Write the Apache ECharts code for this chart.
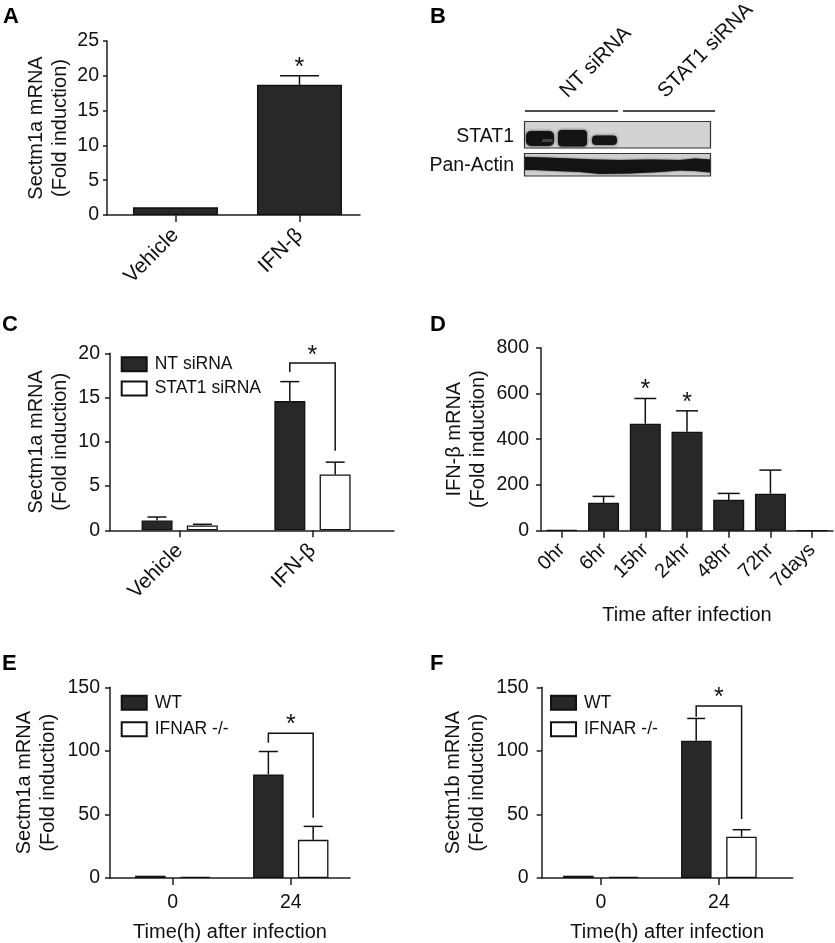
<!DOCTYPE html>
<html><head><meta charset="utf-8">
<script src="https://cdn.jsdelivr.net/npm/echarts@6/dist/echarts.min.js"></script>
<style>html,body{margin:0;padding:0;background:#fff}#c{width:835px;height:943px}</style>
</head><body><div id="c"></div>
<script>
// ---------------- data ----------------
const aCategories = ['Vehicle', 'IFN-β'];
const aMeans = [1.1, 18.7];
const aErrTops = [1.1, 20.0];
const aStars = [null, 22.0];

const cCategories = ['Vehicle', 'IFN-β'];
const cNTMeans = [1.1, 14.6];
const cNTErrTops = [1.5, 16.8];
const cSTAT1Means = [0.55, 6.3];
const cSTAT1ErrTops = [0.68, 7.7];
const cBracket = [1, 17.9, 18.9, 9.0, 20.4]; // group, left leg bottom, bar, right leg bottom, star

const dCategories = ['0hr', '6hr', '15hr', '24hr', '48hr', '72hr', '7days'];
const dMeans = [3, 122, 468, 433, 135, 162, 0];
const dErrTops = [3, 150, 578, 524, 163, 265, 0];
const dStars = [null, null, 641, 585, null, null, null];

const eCategories = ['0', '24'];
const eWTMeans = [1.8, 81.5];
const eWTErrTops = [1.8, 99.5];
const eKOMeans = [1.0, 30.0];
const eKOErrTops = [1.0, 40.6];
const eBracket = [1, 106.4, 113.8, 47.4, 124.8];

const fCategories = ['0', '24'];
const fWTMeans = [1.8, 108.0];
const fWTErrTops = [1.8, 125.5];
const fKOMeans = [1.0, 32.5];
const fKOErrTops = [1.0, 38.0];
const fBracket = [1, 126.9, 135.3, 46.4, 146.5];

// ---------------- style ----------------
const FONT = '"Liberation Sans", Arial, Helvetica, sans-serif';
const INK = '#111';
const AXIS = '#1e1e1e';
const DARK = '#282828';
const STAR_SIZE = 25;

function yAx(gi, max, interval, name, nameGap, margin, tickLen) {
  return {
    type: 'value', gridIndex: gi, min: 0, max: max, interval: interval,
    name: name, nameLocation: 'middle', nameGap: nameGap, nameRotate: 90,
    nameTextStyle: { fontSize: 20, lineHeight: 24, color: INK, fontFamily: FONT },
    axisLine: { show: true, onZero: false, lineStyle: { color: AXIS, width: 1.5 } },
    axisTick: { show: true, length: tickLen, lineStyle: { color: AXIS, width: 1.5 } },
    axisLabel: { fontSize: 19.5, color: INK, fontFamily: FONT, margin: margin },
    splitLine: { show: false }
  };
}
function xVal(gi, min, max, cats, opts) {
  const idx = cats.map((c, i) => i);
  return Object.assign({
    type: 'value', gridIndex: gi, min: min, max: max,
    axisLine: { show: true, onZero: false, lineStyle: { color: AXIS, width: 1.5 } },
    axisTick: { show: true, customValues: idx, length: 7, lineStyle: { color: AXIS, width: 1.5 } },
    axisLabel: { customValues: idx, formatter: v => cats[Math.round(v)] || '', fontSize: opts.fontSize || 19.5,
      color: INK, fontFamily: FONT, margin: opts.margin, rotate: opts.rotate || 0 },
    splitLine: { show: false }
  }, opts.extra || {});
}
function pairs(arr) { return arr.map((v, i) => [i, v]); }
function bar(gi, name, means, fill, barWidth, barGap) {
  return {
    type: 'bar', name: name, xAxisIndex: gi, yAxisIndex: gi, data: pairs(means),
    barWidth: barWidth, barGap: barGap,
    itemStyle: { color: fill, borderColor: INK, borderWidth: 1.3 },
    silent: true, animation: false
  };
}
function errBars(gi, means, tops, offset, capW) {
  return {
    type: 'custom', xAxisIndex: gi, yAxisIndex: gi, z: 5, silent: true, animation: false,
    data: means.map((m, i) => [i, m, tops[i]]),
    encode: { x: 0, y: [1, 2] },
    renderItem: function (params, api) {
      const x = api.value(0), m = api.value(1), t = api.value(2);
      if (!(t > m)) return { type: 'group', children: [] };
      const p = api.coord([x, m]), q = api.coord([x, t]);
      const cx = p[0] + offset;
      const st = { stroke: INK, lineWidth: 1.5 };
      return { type: 'group', children: [
        { type: 'line', shape: { x1: cx, y1: p[1], x2: cx, y2: q[1] }, style: st },
        { type: 'line', shape: { x1: cx - capW / 2, y1: q[1], x2: cx + capW / 2, y2: q[1] }, style: st }
      ] };
    }
  };
}
function starText(x, y) {
  return { type: 'text', x: x, y: y + 6,
    style: { text: '*', fontSize: STAR_SIZE, fontFamily: FONT, fill: INK, align: 'center', verticalAlign: 'middle' } };
}
function stars(gi, vals) {
  return {
    type: 'custom', xAxisIndex: gi, yAxisIndex: gi, z: 6, silent: true, animation: false,
    data: vals.map((v, i) => [i, v == null ? NaN : v]),
    encode: { x: 0, y: 1 },
    renderItem: function (params, api) {
      const v = api.value(1);
      if (isNaN(v)) return { type: 'group', children: [] };
      const p = api.coord([api.value(0), v]);
      return starText(p[0], p[1]);
    }
  };
}
function bracket(gi, b, offset) {
  return {
    type: 'custom', xAxisIndex: gi, yAxisIndex: gi, z: 6, silent: true, animation: false,
    data: [b],
    encode: { x: 0, y: [1, 2, 3, 4] },
    renderItem: function (params, api) {
      const x = api.value(0);
      const pl = api.coord([x, api.value(1)]), pt = api.coord([x, api.value(2)]),
            pr = api.coord([x, api.value(3)]), ps = api.coord([x, api.value(4)]);
      const xl = pl[0] - offset, xr = pl[0] + offset;
      return { type: 'group', children: [
        { type: 'polyline', shape: { points: [[xl, pl[1]], [xl, pt[1]], [xr, pt[1]], [xr, pr[1]]] },
          style: { stroke: INK, lineWidth: 1.5, fill: null } },
        starText(ps[0], ps[1])
      ] };
    }
  };
}
function legend(names, left, top, gap) {
  return {
    data: names, left: left, top: top, orient: 'vertical', padding: 0,
    itemWidth: 25, itemHeight: 14, itemGap: gap, icon: 'rect', selectedMode: false,
    textStyle: { fontSize: 17.5, lineHeight: 17, color: INK, fontFamily: FONT, padding: [0, 0, 0, 3] }
  };
}
function letter(t, x, y) {
  return { type: 'text', x: x, y: y, style: { text: t, fontSize: 22, fontWeight: 'bold', fontFamily: FONT, fill: '#000' } };
}

// ---------------- western blot (panel B, picture) ----------------
const blot = [
  { type: 'line', shape: { x1: 525, y1: 111, x2: 618, y2: 111 }, style: { stroke: '#111', lineWidth: 1.3 } },
  { type: 'line', shape: { x1: 623, y1: 111, x2: 715, y2: 111 }, style: { stroke: '#111', lineWidth: 1.3 } },
  { type: 'rect', shape: { x: 524.5, y: 121.5, width: 186, height: 26.5 }, style: { fill: '#d3d3d3', stroke: '#333', lineWidth: 1.2 } },
  { type: 'rect', shape: { x: 526, y: 131, width: 28, height: 15, r: 5 }, style: { fill: '#121212', shadowBlur: 3, shadowColor: '#333' } },
  { type: 'rect', shape: { x: 542, y: 139, width: 11, height: 3, r: 1.5 }, style: { fill: '#444' } },
  { type: 'rect', shape: { x: 558, y: 130, width: 29, height: 16.5, r: 4 }, style: { fill: '#141414', shadowBlur: 3, shadowColor: '#333' } },
  { type: 'rect', shape: { x: 592, y: 135.5, width: 25, height: 9.5, r: 4 }, style: { fill: '#151515', shadowBlur: 3, shadowColor: '#444' } },
  { type: 'rect', shape: { x: 524.5, y: 153.5, width: 186, height: 22.5 }, style: { fill: '#cfcfcf', stroke: '#333', lineWidth: 1.2 } },
  { type: 'polygon', shape: { points: [[525, 157], [545, 157.5], [570, 158.5], [595, 159.5], [620, 160], [650, 159.5], [680, 160], [695, 158.5], [710, 159.5],
      [710, 172.5], [695, 171], [680, 170.5], [660, 172], [630, 173.5], [600, 174], [580, 172], [555, 171], [535, 170], [525, 170]] },
    style: { fill: '#131313', shadowBlur: 2, shadowColor: '#333' } },
  { type: 'text', x: 514, y: 137, style: { text: 'STAT1', fontSize: 19.5, fontFamily: FONT, fill: INK, align: 'right', verticalAlign: 'middle' } },
  { type: 'text', x: 514, y: 166, style: { text: 'Pan-Actin', fontSize: 19.5, fontFamily: FONT, fill: INK, align: 'right', verticalAlign: 'middle' } },
  { type: 'text', x: 571, y: 102, rotation: Math.PI / 4, originX: 0, originY: 0,
    style: { text: 'NT siRNA', fontSize: 20.5, fontFamily: FONT, fill: INK, align: 'left', verticalAlign: 'bottom' } },
  { type: 'text', x: 669, y: 102, rotation: Math.PI / 4, originX: 0, originY: 0,
    style: { text: 'STAT1 siRNA', fontSize: 20.5, fontFamily: FONT, fill: INK, align: 'left', verticalAlign: 'bottom' } }
];

const option = {
  backgroundColor: '#fff',
  animation: false,
  textStyle: { fontFamily: FONT },
  grid: [
    { left: 107, top: 41, width: 253, height: 174 },
    { left: 110, top: 353.3, width: 284, height: 177 },
    { left: 541, top: 347.7, width: 292, height: 183 },
    { left: 110, top: 687.3, width: 240, height: 190.7 },
    { left: 541.7, top: 687.3, width: 251, height: 190.7 }
  ],
  xAxis: [
    xVal(0, -0.552, 1.488, aCategories, { margin: 17, rotate: 45, fontSize: 21 }),
    xVal(1, -0.525, 1.614, cCategories, { margin: 17, rotate: 45, fontSize: 21 }),
    {
      type: 'category', gridIndex: 2, data: dCategories,
      name: 'Time after infection', nameLocation: 'middle', nameGap: 75,
      nameTextStyle: { fontSize: 20, color: INK, fontFamily: FONT },
      axisLine: { show: true, lineStyle: { color: AXIS, width: 1.5 } },
      axisTick: { show: true, alignWithLabel: true, length: 7, lineStyle: { color: AXIS, width: 1.5 } },
      axisLabel: { fontSize: 20, color: INK, fontFamily: FONT, margin: 16, rotate: 45, interval: 0 }
    },
    xVal(3, -0.532, 1.502, eCategories, { margin: 15, extra: {
      name: 'Time(h) after infection', nameLocation: 'middle', nameGap: 44,
      nameTextStyle: { fontSize: 20, color: INK, fontFamily: FONT } } }),
    xVal(4, -0.503, 1.626, fCategories, { margin: 15, extra: {
      name: 'Time(h) after infection', nameLocation: 'middle', nameGap: 44,
      nameTextStyle: { fontSize: 20, color: INK, fontFamily: FONT } } })
  ],
  yAxis: [
    yAx(0, 25, 5, 'Sectm1a mRNA\n(Fold induction)', 35, 8, 4),
    yAx(1, 20, 5, 'Sectm1a mRNA\n(Fold induction)', 38, 10, 5),
    yAx(2, 800, 200, 'IFN-β mRNA\n(Fold induction)', 51, 12, 5),
    yAx(3, 150, 50, 'Sectm1a mRNA\n(Fold induction)', 50, 10, 5),
    yAx(4, 150, 50, 'Sectm1b mRNA\n(Fold induction)', 52, 13, 5)
  ],
  legend: [
    legend(['NT siRNA', 'STAT1 siRNA'], 120.7, 355.2, 6.3),
    legend(['WT', 'IFNAR -/-'], 120.7, 693.8, 8.4),
    legend(['WT', 'IFNAR -/-'], 550, 693.8, 8.4)
  ],
  series: [
    // A
    bar(0, 'A', aMeans, DARK, 85),
    errBars(0, aMeans, aErrTops, 0, 39),
    stars(0, aStars),
    // C
    bar(1, 'NT siRNA', cNTMeans, DARK, 31, '46%'),
    bar(1, 'STAT1 siRNA', cSTAT1Means, '#ffffff', 31, '46%'),
    errBars(1, cNTMeans, cNTErrTops, -22.7, 19),
    errBars(1, cSTAT1Means, cSTAT1ErrTops, 22.7, 19),
    bracket(1, cBracket, 22.7),
    // D
    bar(2, 'D', dMeans, DARK, 31),
    errBars(2, dMeans, dErrTops, 0, 22),
    stars(2, dStars),
    // E
    bar(3, 'WT', eWTMeans, DARK, 30.5, '47%'),
    bar(3, 'IFNAR -/-', eKOMeans, '#ffffff', 30.5, '47%'),
    errBars(3, eWTMeans, eWTErrTops, -22.4, 19),
    errBars(3, eKOMeans, eKOErrTops, 22.4, 19),
    bracket(3, eBracket, 22.4),
    // F
    bar(4, 'WT', fWTMeans, DARK, 30.5, '48%'),
    bar(4, 'IFNAR -/-', fKOMeans, '#ffffff', 30.5, '48%'),
    errBars(4, fWTMeans, fWTErrTops, -22.7, 18),
    errBars(4, fKOMeans, fKOErrTops, 22.7, 18),
    bracket(4, fBracket, 22.7)
  ],
  graphic: [
    letter('A', 3, 6), letter('B', 430, 6), letter('C', 2, 314),
    letter('D', 430, 314), letter('E', 2, 653), letter('F', 430, 653)
  ].concat(blot)
};

const chart = echarts.init(document.getElementById('c'), null, { renderer: 'canvas' });
chart.setOption(option);
</script>
</body></html>
